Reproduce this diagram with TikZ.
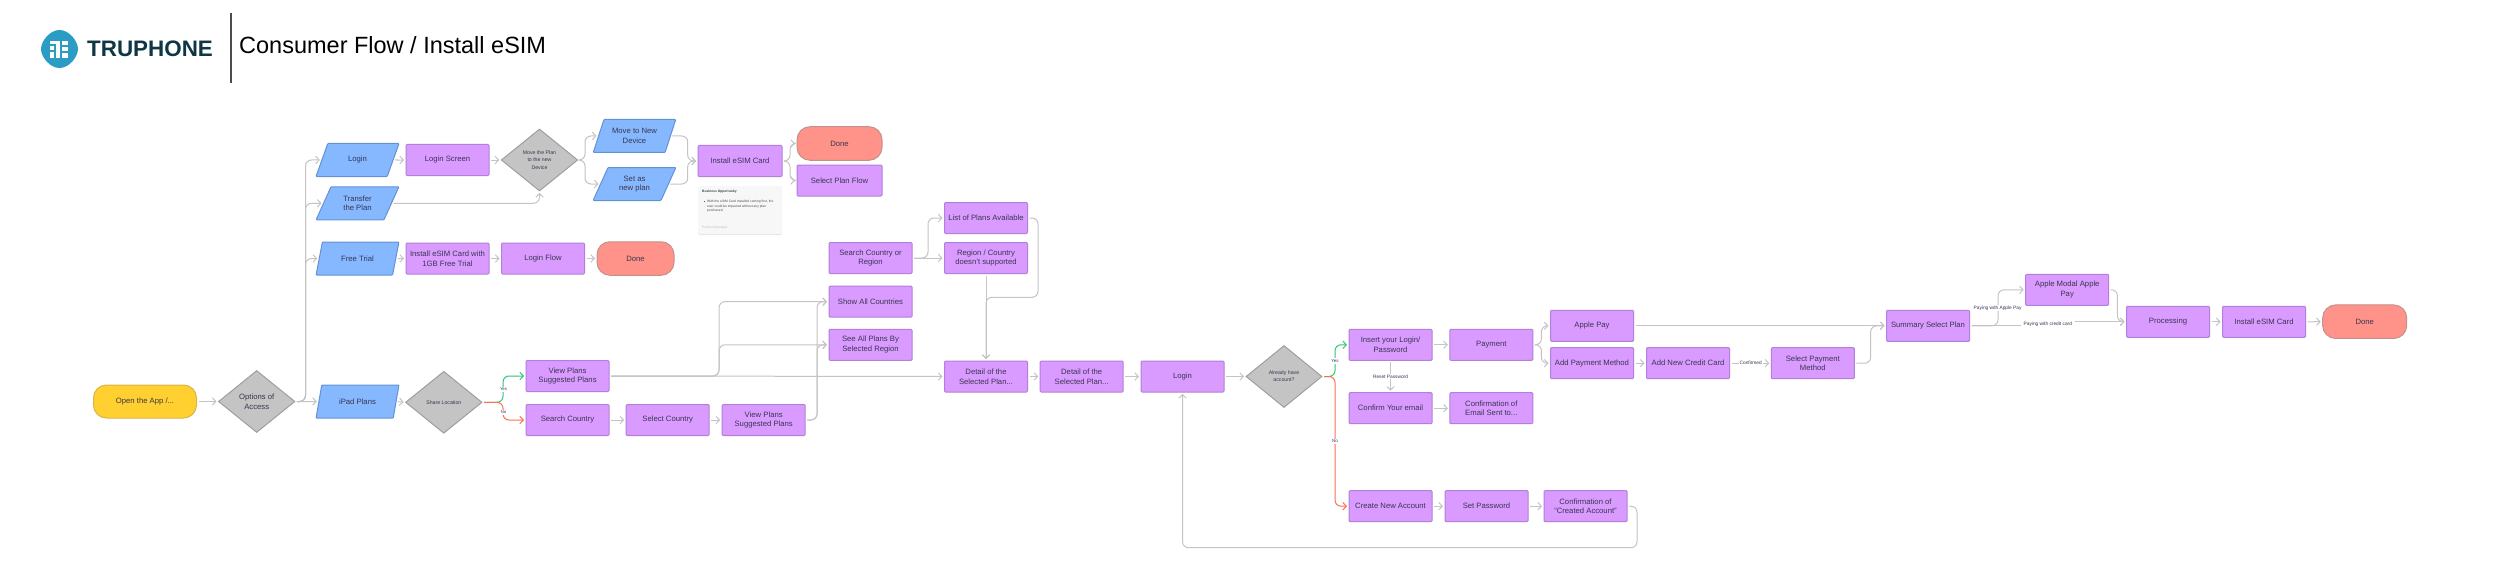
\documentclass[tikz,border=0pt]{standalone}
\usepackage{fontspec}
\setmainfont{Liberation Sans}
\usepackage{xcolor}
\usetikzlibrary{arrows.meta,shapes.geometric,shadows}
\definecolor{flowpurple}{HTML}{D99BFF}
\definecolor{flowpurpleedge}{HTML}{B27FD9}
\definecolor{flowblue}{HTML}{85B8FF}
\definecolor{flowblueedge}{HTML}{6491D2}
\definecolor{flowyellow}{HTML}{FFD02F}
\definecolor{flowyellowedge}{HTML}{D9B548}
\definecolor{flowsalmon}{HTML}{FF938A}
\definecolor{flowsalmonedge}{HTML}{C4908B}
\definecolor{flowgray}{HTML}{C4C4C4}
\definecolor{flowgrayedge}{HTML}{9E9E9E}
\definecolor{flowink}{HTML}{3A3550}
\definecolor{flowgreen}{HTML}{2FC674}
\definecolor{flowred}{HTML}{FF6F4F}
\definecolor{logoteal}{HTML}{2B9CC4}
\definecolor{logoink}{HTML}{0F3644}
\begin{document}
\begin{tikzpicture}[x=1pt,y=-1pt,font=\fontsize{7.7}{9.7}\selectfont,
  planbox/.style={rectangle,rounded corners=1pt,draw=flowpurpleedge,fill=flowpurple,line width=1pt,text=flowink,align=center,minimum width=83pt,minimum height=31pt,inner sep=0pt},
  inputbox/.style={trapezium,trapezium left angle=62.5,trapezium right angle=117.5,trapezium stretches=true,rounded corners=0.8pt,draw=flowblueedge,fill=flowblue,line width=1pt,text=flowink,align=center,minimum width=83pt,minimum height=33pt,inner sep=0pt},
  askbox/.style={diamond,draw=flowgrayedge,fill=flowgray,line width=1pt,text=flowink,align=center,minimum width=76.5pt,minimum height=62pt,inner sep=0pt},
  askbig/.style={askbox},
  asksmall/.style={askbox,font=\fontsize{5.2}{7.2}\selectfont},
  donebox/.style={rectangle,rounded corners=13pt,draw=flowsalmonedge,fill=flowsalmon,line width=1pt,text=flowink,minimum width=77pt,minimum height=33.5pt,inner sep=0pt},
  startbox/.style={rectangle,rounded corners=13pt,draw=flowyellowedge,fill=flowyellow,line width=1pt,text=flowink,minimum width=103pt,minimum height=33pt,inner sep=0pt},
  link/.style={draw=flowgray,line width=1pt,rounded corners=6pt,shorten <=1.5pt,shorten >=1.5pt,-{Straight Barb[length=3.5pt,width=7.5pt]}},
  linkyes/.style={link,draw=flowgreen},
  linkno/.style={link,draw=flowred},
  flowlabel/.style={fill=white,text=flowink,font=\fontsize{4.8}{5.5}\selectfont,inner sep=1pt}]
\useasboundingbox (0,0) rectangle (2500,583);
\fill[white] (0,0) rectangle (2500,583);
\fill[logoteal] (59.5,30) .. controls (69,30) and (78,41) .. (78,49) .. controls (78,57) and (69,68) .. (59.5,68) .. controls (50,68) and (41,57) .. (41,49) .. controls (41,41) and (50,30) .. (59.5,30);
\fill[white] (50,41) rectangle (60,44);
\fill[white] (56,44) rectangle (60,58);
\fill[white] (50,46) rectangle (54,50);
\fill[white] (50,52) rectangle (54,58);
\fill[white] (62,41) rectangle (68,45);
\fill[white] (62,47) rectangle (68,51);
\fill[white] (62,53) rectangle (68,58);
\node[anchor=base west,inner sep=0pt,text=logoink,font=\fontsize{22.4}{24}\selectfont\bfseries] (brand) at (87,57) {TRUPHONE};
\draw[line width=1.5pt,black!70] (231,13) -- (231,83);
\node[anchor=base west,inner sep=0pt,text=black,font=\fontsize{23.5}{26}\selectfont] (title) at (239,53.5) {Consumer Flow / Install eSIM};
\node[startbox] (open) at (145,401.5) {Open the App /...};
\node[askbig] (options) at (256.7,401.5) {Options of\\Access};
\node[inputbox] (login) at (357.5,160) {Login};
\node[planbox] (loginscreen) at (447.5,160) {Login Screen};
\node[asksmall] (moveq) at (539.5,160) {Move the Plan\\to the new\\Device};
\node[inputbox] (movenew) at (634.5,136) {Move to New\\Device};
\node[inputbox] (setplan) at (634.5,184) {Set as\\new plan};
\node[inputbox] (transfer) at (357.5,203.3) {Transfer\\the Plan};
\node[inputbox] (freetrial) at (357.5,258.5) {Free Trial};
\node[planbox] (installfree) at (447.5,258.5) {Install eSIM Card with\\1GB Free Trial};
\node[planbox] (loginflow) at (543,258.5) {Login Flow};
\node[donebox] (donefree) at (635.5,258.5) {Done};
\node[planbox,minimum width=84pt] (install) at (740,161) {Install eSIM Card};
\node[donebox,minimum width=85pt] (donetop) at (839.5,143.5) {Done};
\node[planbox,minimum width=85pt] (selectflow) at (839.5,180.5) {Select Plan Flow};
\node[rectangle,rounded corners=1.5pt,fill=black!3,minimum width=84pt,minimum height=48pt,inner sep=0pt,drop shadow={shadow xshift=0pt,shadow yshift=-1pt,opacity=0.2}] (note) at (740,210) {};
\node[anchor=west,inner sep=0pt,font=\fontsize{3.3}{4.8}\selectfont\bfseries,text=black!75] (notehead) at (702,192) {Business Opportunity};
\node[anchor=north west,inner sep=0pt,font=\fontsize{3.3}{4.7}\selectfont,text=black!70,align=left] (notebody) at (707,200) {With the eSIM Card Installed coming first, the\\user could be impacted without any plan\\purchased};
\fill[black!70] (704.5,201.6) circle (0.6pt);
\node[anchor=west,inner sep=0pt,font=\fontsize{3.3}{4.8}\selectfont,text=black!25] (notefoot) at (702,228) {Product Manager};
\node[inputbox] (ipad) at (357.5,401.5) {iPad Plans};
\node[asksmall] (share) at (443.8,402.3) {Share Location};
\node[planbox] (viewplans) at (567.5,376) {View Plans\\Suggested Plans};
\node[planbox] (searchcountry) at (567.5,420) {Search Country};
\node[planbox] (selectcountry) at (667.7,420) {Select Country};
\node[planbox] (viewplanstwo) at (763.7,420) {View Plans\\Suggested Plans};
\node[planbox] (searchregion) at (870.5,258) {Search Country or\\Region};
\node[planbox] (listplans) at (986,218) {List of Plans Available};
\node[planbox] (regionno) at (986,258) {Region / Country\\doesn't supported};
\node[planbox] (showall) at (870.5,301.7) {Show All Countries};
\node[planbox] (seeall) at (870.5,344.8) {See All Plans By\\Selected Region};
\node[planbox] (detailone) at (986,376.5) {Detail of the\\Selected Plan...};
\node[planbox] (detailtwo) at (1081.7,376.5) {Detail of the\\Selected Plan...};
\node[planbox] (loginmain) at (1182.5,376.5) {Login};
\node[asksmall,minimum width=76pt] (already) at (1284,376.5) {Already have\\account?};
\node[planbox] (insert) at (1390.5,344.8) {Insert your Login/\\Password};
\node[planbox] (payment) at (1491.3,344.8) {Payment};
\node[planbox] (applepay) at (1592,325.8) {Apple Pay};
\node[planbox] (addpayment) at (1592,363.2) {Add Payment Method};
\node[planbox] (addcard) at (1688,363.2) {Add New Credit Card};
\node[planbox] (selectpayment) at (1812.8,363.2) {Select Payment\\Method};
\node[planbox] (confirmemail) at (1390.5,408.2) {Confirm Your email};
\node[planbox] (emailsent) at (1491.3,408.2) {Confirmation of\\Email Sent to...};
\node[planbox] (createaccount) at (1390.5,506.2) {Create New Account};
\node[planbox] (setpassword) at (1486.5,506.2) {Set Password};
\node[planbox] (createdconf) at (1585.5,506.2) {Confirmation of\\``Created Account''};
\node[planbox] (summary) at (1928,325.8) {Summary Select Plan};
\node[planbox] (applemodal) at (2067.2,289.8) {Apple Modal Apple\\Pay};
\node[planbox] (processing) at (2168,321.8) {Processing};
\node[planbox] (installend) at (2264,321.8) {Install eSIM Card};
\node[donebox,minimum width=84pt] (doneend) at (2364.7,321.7) {Done};
\coordinate (trunkaccess) at (305.5,401.5);
\coordinate (trunkmove) at (585,160);
\coordinate (trunkinstall) at (687.7,161);
\coordinate (trunkdone) at (790,161);
\coordinate (trunkshare) at (503,402.3);
\coordinate (trunkview) at (719,376);
\coordinate (trunkviewtwo) at (817,420);
\coordinate (trunksearch) at (928,258);
\coordinate (joinplans) at (1038,297.3);
\coordinate (trunkalready) at (1335,376.5);
\coordinate (trunkpayment) at (1541.4,344.8);
\coordinate (returncorner) at (1637,547.7);
\coordinate (trunksummary) at (1870.7,325.8);
\coordinate (trunkapple) at (1998,325.8);
\coordinate (trunkprocess) at (2117.4,321.8);
\draw[link] (open.east) -- (options.west);
\draw[link] (options.east) -- (ipad.west);
\draw[link] (options.east) -- (trunkaccess) |- (login.west);
\draw[link] (options.east) -- (trunkaccess) |- (transfer.west);
\draw[link] (options.east) -- (trunkaccess) |- (freetrial.west);
\draw[link] (login.east) -- (loginscreen.west);
\draw[link] (loginscreen.east) -- (moveq.west);
\draw[link] (moveq.east) -- (trunkmove) |- (movenew.west);
\draw[link] (moveq.east) -- (trunkmove) |- (setplan.west);
\draw[link] (transfer.east) -| (moveq.south);
\draw[link] (movenew.east) -| (trunkinstall) -- (install.west);
\draw[link] (setplan.east) -| (trunkinstall) -- (install.west);
\draw[link] (install.east) -- (trunkdone) |- (donetop.west);
\draw[link] (install.east) -- (trunkdone) |- (selectflow.west);
\draw[link] (freetrial.east) -- (installfree.west);
\draw[link] (installfree.east) -- (loginflow.west);
\draw[link] (loginflow.east) -- (donefree.west);
\draw[link] (ipad.east) -- (share.west);
\draw[linkyes] (share.east) -- (trunkshare) |- (viewplans.west);
\draw[linkno] (share.east) -- (trunkshare) |- (searchcountry.west);
\node[flowlabel,font=\fontsize{4.2}{5}\selectfont] (shareyes) at (503.5,389.3) {Yes};
\node[flowlabel,font=\fontsize{4.2}{5}\selectfont] (shareno) at (503.5,412.3) {No};
\draw[link] (searchcountry.east) -- (selectcountry.west);
\draw[link] (selectcountry.east) -- (viewplanstwo.west);
\draw[link] (viewplans.east) -- (detailone.west);
\draw[link] (viewplans.east) -- (trunkview) |- (showall.west);
\draw[link] (viewplans.east) -- (trunkview) |- (seeall.west);
\draw[link] (viewplanstwo.east) -- (trunkviewtwo) |- (showall.west);
\draw[link] (viewplanstwo.east) -- (trunkviewtwo) |- (seeall.west);
\draw[link] (searchregion.east) -- (regionno.west);
\draw[link] (searchregion.east) -- (trunksearch) |- (listplans.west);
\draw[link] (regionno.south) -- (detailone.north);
\draw[link] (listplans.east) -| (joinplans) -| (detailone.north);
\draw[link] (detailone.east) -- (detailtwo.west);
\draw[link] (detailtwo.east) -- (loginmain.west);
\draw[link] (loginmain.east) -- (already.west);
\draw[linkyes] (already.east) -- (trunkalready) |- (insert.west);
\draw[linkno] (already.east) -- (trunkalready) |- (createaccount.west);
\node[flowlabel,font=\fontsize{4.4}{5}\selectfont] (alreadyyes) at (1335,361) {Yes};
\node[flowlabel,font=\fontsize{4.4}{5}\selectfont] (alreadyno) at (1335,441.5) {No};
\draw[link] (insert.east) -- (payment.west);
\draw[link] (insert.south) -- (confirmemail.north);
\node[flowlabel] (resetlabel) at (1390.5,376.5) {Reset Password};
\draw[link] (confirmemail.east) -- (emailsent.west);
\draw[link] (payment.east) -- (trunkpayment) |- (applepay.west);
\draw[link] (payment.east) -- (trunkpayment) |- (addpayment.west);
\draw[link] (addpayment.east) -- (addcard.west);
\draw[link] (addcard.east) -- (selectpayment.west);
\node[flowlabel] (confirmedlabel) at (1750.7,363.2) {Confirmed};
\draw[link] (createaccount.east) -- (setpassword.west);
\draw[link] (setpassword.east) -- (createdconf.west);
\draw[link] (createdconf.east) -| (returncorner) -| (loginmain.south);
\draw[link] (applepay.east) -- (summary.west);
\draw[link] (selectpayment.east) -| (trunksummary) -- (summary.west);
\draw[link] (summary.east) -- (trunkapple) |- (applemodal.west);
\node[flowlabel] (applelabel) at (1997.6,308) {Paying with Apple Pay};
\node[flowlabel] (creditlabel) at (2047.8,324) {Paying with credit card};
\draw[link,-] (summary.east) -- (creditlabel.west |- summary.east);
\draw[link] (creditlabel.east |- processing.west) -- (processing.west);
\draw[link] (applemodal.east) -| (trunkprocess) -- (processing.west);
\draw[link] (processing.east) -- (installend.west);
\draw[link] (installend.east) -- (doneend.west);
\end{tikzpicture}
\end{document}
